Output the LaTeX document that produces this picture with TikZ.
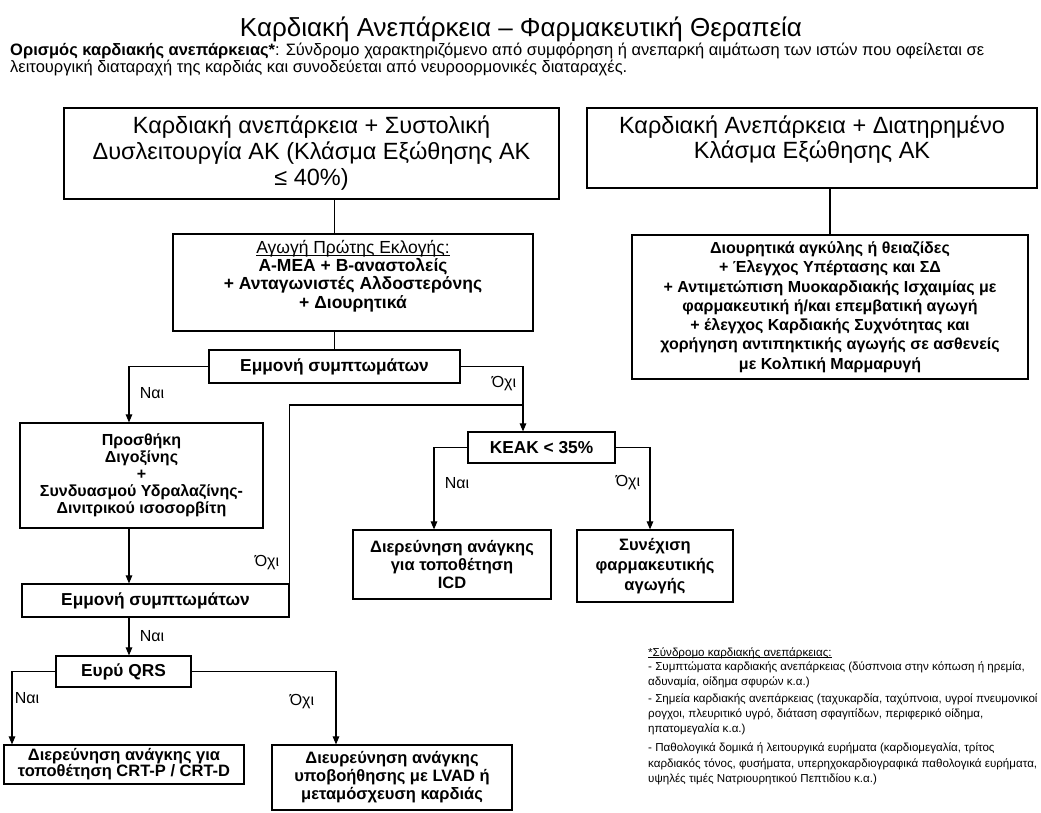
\documentclass[tikz,border=0pt]{standalone}
\usepackage{fontspec}
\setmainfont{Liberation Sans}
\usetikzlibrary{arrows.meta}
\newcommand{\myul}[1]{\setbox0\hbox{#1}\rlap{\rule[-2.2pt]{\wd0}{0.9pt}}\box0}
\begin{document}
\begin{tikzpicture}[x=1pt,y=-1pt,
  box/.style={draw, line width=1.2pt, inner sep=2pt, align=center},
  conn/.style={line width=1.1pt},
  arr/.style={conn, -{Triangle[length=8pt,width=6.5pt]}},
  lbl/.style={font=\fontsize{16}{18}\selectfont, inner sep=0pt},
  big/.style={font=\fontsize{23.5}{26}\selectfont},
  bb/.style={font=\bfseries\fontsize{16.5}{18}\selectfont},
  bq/.style={font=\bfseries\fontsize{17.3}{18}\selectfont},
  txt/.style={inner sep=0pt, anchor=base west},
  foot/.style={txt, font=\fontsize{11.6}{15}\selectfont},
]
\useasboundingbox (0,0) rectangle (1041,812);
% title and definition
\node[inner sep=0pt, font=\fontsize{26}{30}\selectfont] (title) at (521,29.5) {Καρδιακή Ανεπάρκεια – Φαρμακευτική Θεραπεία};
\node[txt, font=\fontsize{16.5}{17}\selectfont] (def1) at (10,55.5) {\textbf{Ορισμός καρδιακής ανεπάρκειας*}: Σύνδρομο χαρακτηριζόμενο από συμφόρηση ή ανεπαρκή αιμάτωση των ιστών που οφείλεται σε};
\node[txt, font=\fontsize{16.5}{17}\selectfont] (def2) at (10,72.5) {λειτουργική διαταραχή της καρδιάς και συνοδεύεται από νευροορμονικές διαταραχές.};

% boxes
\node[box, big, minimum width=495pt, minimum height=91pt] (b1) at (311.5,153.5) {Καρδιακή ανεπάρκεια + Συστολική\\Δυσλειτουργία ΑΚ (Κλάσμα Εξώθησης ΑΚ\\≤ 40\%)};
\node[box, minimum width=450pt, minimum height=80pt] (b2) at (812,148) {};
\node[inner sep=0pt, align=center, font=\fontsize{23.5}{25}\selectfont] (b2t) at (812,139.5) {Καρδιακή Ανεπάρκεια + Διατηρημένο\\Κλάσμα Εξώθησης ΑΚ};
\node[box, minimum width=360pt, minimum height=97pt] (b3) at (353,282.5) {};
\node[inner sep=0pt, align=center, font=\bfseries\fontsize{17.5}{18.2}\selectfont] (b3t) at (353,276) {\mdseries\myul{Αγωγή Πρώτης Εκλογής:}\\Α-ΜΕΑ + Β-αναστολείς\\+ Ανταγωνιστές Αλδοστερόνης\\+ Διουρητικά};
\node[box, minimum width=396pt, minimum height=144pt, font=\bfseries\fontsize{16}{19.3}\selectfont] (b4) at (830,307) {Διουρητικά αγκύλης ή θειαζίδες\\+ Έλεγχος Υπέρτασης και ΣΔ\\+ Αντιμετώπιση Μυοκαρδιακής Ισχαιμίας με\\φαρμακευτική ή/και επεμβατική αγωγή\\+ έλεγχος Καρδιακής Συχνότητας και\\χορήγηση αντιπηκτικής αγωγής σε ασθενείς\\με Κολπική Μαρμαρυγή};
\node[box, bq, minimum width=251pt, minimum height=33pt] (e1) at (334.5,366.5) {Εμμονή συμπτωμάτων};
\node[box, bq, minimum width=147pt, minimum height=31pt] (k) at (541.5,447.5) {ΚΕΑΚ < 35\%};
\node[box, bb, minimum width=198pt, minimum height=69pt] (icd) at (452,564.5) {Διερεύνηση ανάγκης\\για τοποθέτηση\\ICD};
\node[box, minimum width=156pt, minimum height=72pt, font=\bfseries\fontsize{16.5}{20}\selectfont] (sx) at (655,566) {Συνέχιση\\φαρμακευτικής\\αγωγής};
\node[box, minimum width=243pt, minimum height=105pt, font=\bfseries\fontsize{16}{17}\selectfont] (p) at (141.5,475.5) {Προσθήκη\\Διγοξίνης\\+\\Συνδυασμού Υδραλαζίνης-\\Δινιτρικού ισοσορβίτη};
\node[box, bq, minimum width=267pt, minimum height=33pt] (e2) at (155.5,600.5) {Εμμονή συμπτωμάτων};
\node[box, bq, minimum width=135pt, minimum height=31pt] (q) at (123.5,671.5) {Ευρύ QRS};
\node[box, minimum width=240pt, minimum height=39pt, font=\bfseries\fontsize{16.5}{16}\selectfont] (crt) at (124,764.5) {Διερεύνηση ανάγκης για\\τοποθέτηση CRT-P / CRT-D};
\node[box, bb, minimum width=240pt, minimum height=65pt] (lv) at (392,777.5) {Διευρεύνηση ανάγκης\\υποβοήθησης με LVAD ή\\μεταμόσχευση καρδιάς};

% connectors
\draw[conn] (e1.north |- b1.south) -- (e1.north |- b3.north);
\draw[conn] (e1.north |- b3.south) -- (e1.north);
\draw[conn] (b4.north |- b2.south) -- (b4.north);
\draw[arr] (e1.west) -| ([xshift=-12.5pt]p.north);
\draw[arr] (e1.east) -| ([xshift=-18.5pt]k.north);
\coordinate (j1) at (523,405);
\draw[conn] (e2.north east) |- (j1);
\draw[arr] (k.west) -| ([xshift=-18pt]icd.north);
\draw[arr] (k.east) -| ([xshift=-5pt]sx.north);
\draw[arr] ([xshift=-12.5pt]p.south) -- ([xshift=-12.5pt]p.south |- e2.north);
\draw[arr] ([xshift=5.5pt]q.north |- e2.south) -- ([xshift=5.5pt]q.north);
\draw[arr] (q.west) -| ([xshift=-112pt]crt.north);
\draw[arr] (q.east) -| ([xshift=-56pt]lv.north);

% labels
\node[lbl] (l1) at (152,393) {Ναι};
\node[lbl] (l2) at (504,384) {Όχι};
\node[lbl] (l3) at (457,483) {Ναι};
\node[lbl] (l4) at (628,483) {Όχι};
\node[lbl] (l5) at (267,563) {Όχι};
\node[lbl] (l6) at (152,636) {Ναι};
\node[lbl] (l7) at (27,698) {Ναι};
\node[lbl] (l8) at (302,702) {Όχι};

% footnote
\node[foot] (f1) at (648,656) {\myul{*Σύνδρομο καρδιακής ανεπάρκειας:}};
\node[foot] (f2) at (648,670) {- Συμπτώματα καρδιακής ανεπάρκειας (δύσπνοια στην κόπωση ή ηρεμία,};
\node[foot] (f3) at (648,685) {αδυναμία, οίδημα σφυρών κ.α.)};
\node[foot] (f4) at (648,702) {- Σημεία καρδιακής ανεπάρκειας (ταχυκαρδία, ταχύπνοια, υγροί πνευμονικοί};
\node[foot] (f5) at (648,717) {ρογχοι, πλευριτικό υγρό, διάταση σφαγιτίδων, περιφερικό οίδημα,};
\node[foot] (f6) at (648,732) {ηπατομεγαλία κ.α.)};
\node[foot] (f7) at (648,751) {- Παθολογικά δομικά ή λειτουργικά ευρήματα (καρδιομεγαλία, τρίτος};
\node[foot] (f8) at (648,767) {καρδιακός τόνος, φυσήματα, υπερηχοκαρδιογραφικά παθολογικά ευρήματα,};
\node[foot] (f9) at (648,782) {υψηλές τιμές Νατριουρητικού Πεπτιδίου κ.α.)};
\end{tikzpicture}
\end{document}
